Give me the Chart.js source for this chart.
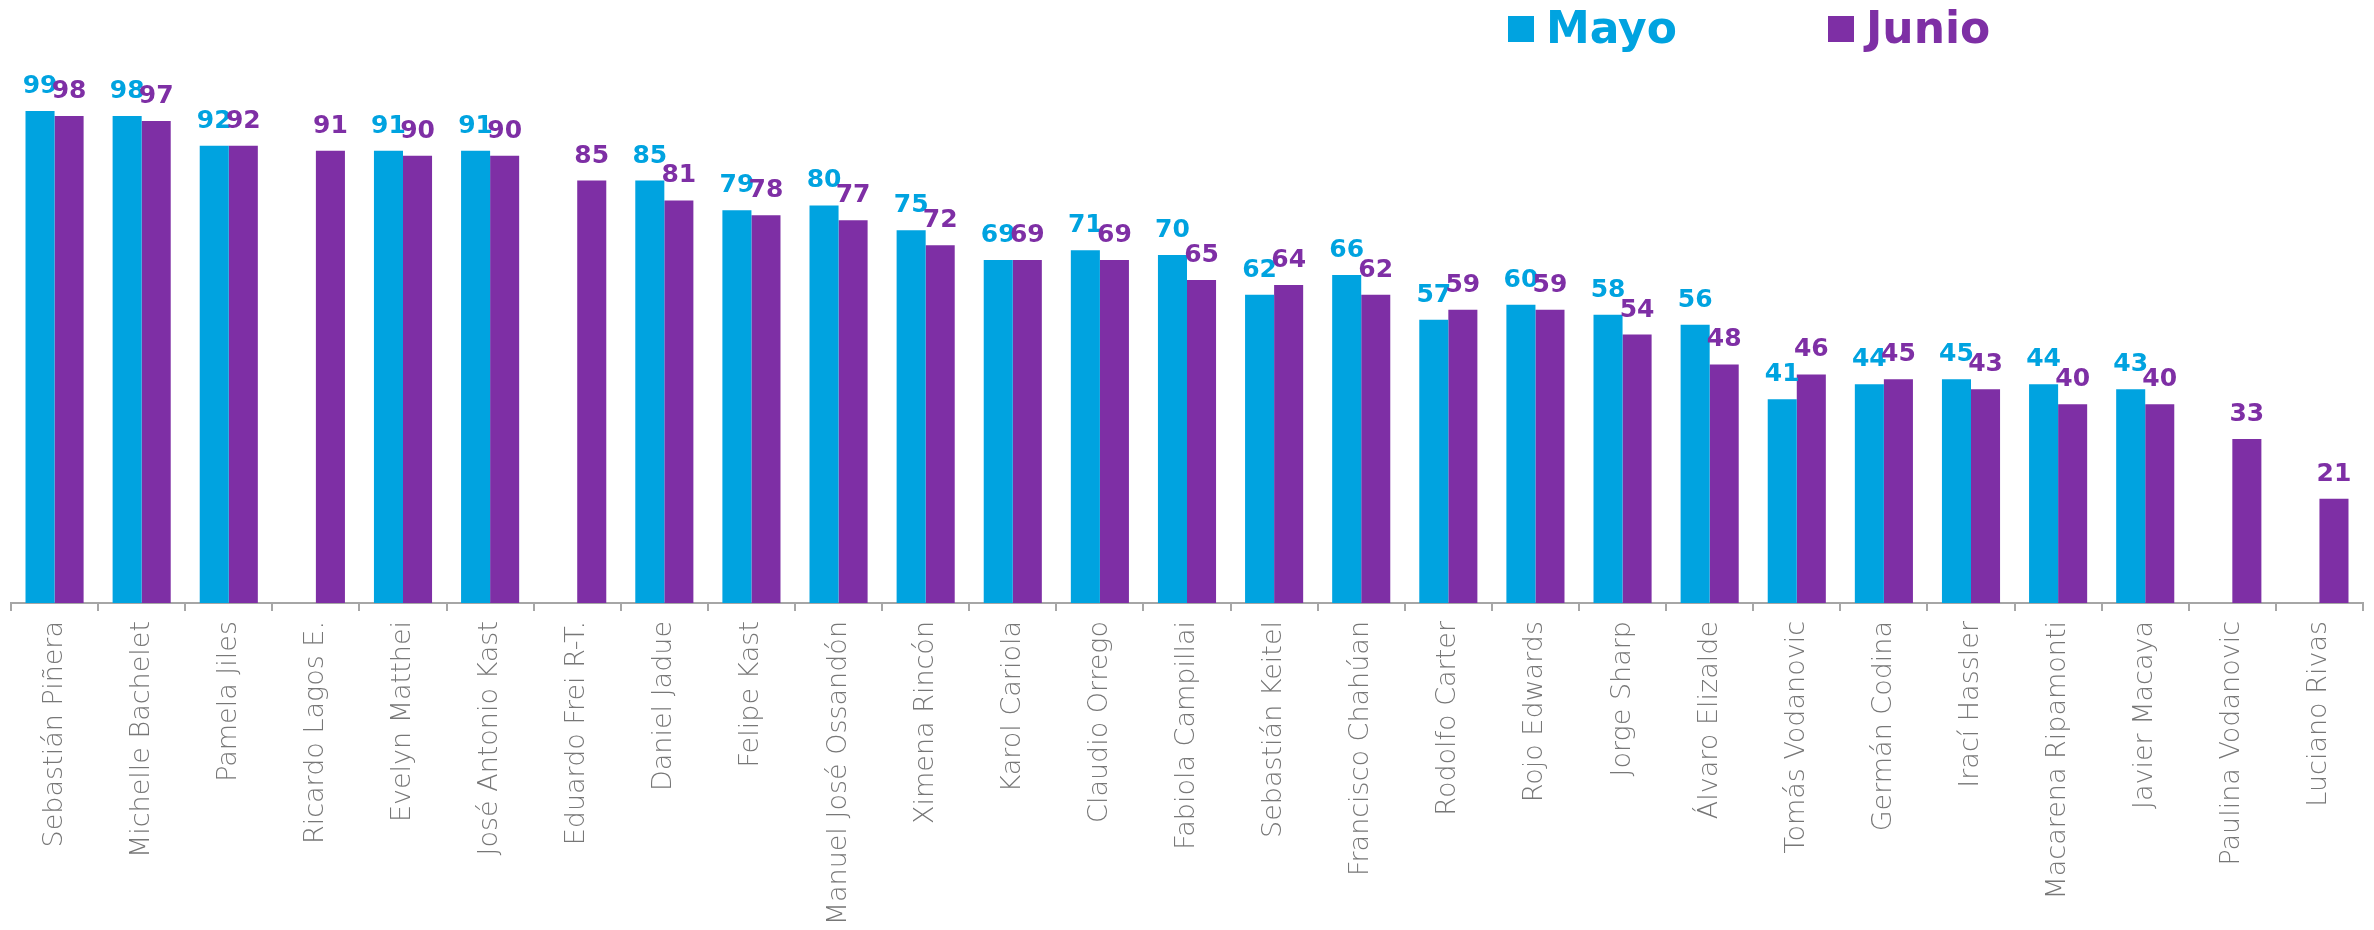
<!DOCTYPE html>
<html>
<head>
<meta charset="utf-8">
<script src="https://cdn.jsdelivr.net/npm/chart.js@4"></script>
<style>
html,body{margin:0;padding:0;background:#fff;}
#wrap{width:2374px;height:930px;position:relative;}
</style>
</head>
<body>
<div id="wrap"><canvas id="c" width="2374" height="930"></canvas></div>
<script>
const categories = ["Sebastián Piñera","Michelle Bachelet","Pamela Jiles","Ricardo Lagos E.","Evelyn Matthei","José Antonio Kast","Eduardo Frei R-T.","Daniel Jadue","Felipe Kast","Manuel José Ossandón","Ximena Rincón","Karol Cariola","Claudio Orrego","Fabiola Campillai","Sebastián Keitel","Francisco Chahúan","Rodolfo Carter","Rojo Edwards","Jorge Sharp","Álvaro Elizalde","Tomás Vodanovic","Germán Codina","Irací Hassler","Macarena Ripamonti","Javier Macaya","Paulina Vodanovic","Luciano Rivas"];
const mayo  = [99,98,92,null,91,91,null,85,79,80,75,69,71,70,62,66,57,60,58,56,41,44,45,44,43,null,null];
const junio = [98,97,92,91,90,90,85,81,78,77,72,69,69,65,64,62,59,59,54,48,46,45,43,40,40,33,21];
const seriesNames = ["Mayo","Junio"];
const colors = ["#00A3E0","#7E2FA5"];

const valueLabels = {
  id:'valueLabels',
  afterDatasetsDraw(chart){
    const ctx = chart.ctx;
    ctx.save();
    ctx.font = "bold 25px 'DejaVu Sans'";
    ctx.textAlign = 'center';
    ctx.textBaseline = 'alphabetic';
    chart.data.datasets.forEach((ds,i)=>{
      const meta = chart.getDatasetMeta(i);
      ctx.fillStyle = colors[i];
      meta.data.forEach((el,j)=>{
        const v = ds.data[j];
        if (v === null || v === undefined) return;
        ctx.fillText(String(v), el.x, el.y - 18);
      });
    });
    ctx.restore();
  }
};

const customLegend = {
  id:'customLegend',
  afterDraw(chart){
    const ctx = chart.ctx;
    ctx.save();
    const items = [{x:1508},{x:1828}];
    ctx.font = "bold 44px 'DejaVu Sans'";
    ctx.textBaseline = 'alphabetic';
    ctx.textAlign = 'left';
    items.forEach((it,i)=>{
      ctx.fillStyle = colors[i];
      ctx.fillRect(it.x, 16, 26, 26);
      ctx.fillText(seriesNames[i], it.x + 38, 43);
    });
    ctx.restore();
  }
};

new Chart(document.getElementById('c'), {
  type:'bar',
  data:{
    labels: categories,
    datasets:[
      {label:seriesNames[0], data:mayo, backgroundColor:colors[0], borderWidth:0},
      {label:seriesNames[1], data:junio, backgroundColor:colors[1], borderWidth:0}
    ]
  },
  options:{
    responsive:false,
    animation:false,
    layout:{padding:{top:106,left:11,right:11,bottom:0}},
    plugins:{legend:{display:false}, tooltip:{enabled:false}},
    datasets:{bar:{categoryPercentage:0.667, barPercentage:1.0}},
    scales:{
      y:{display:false, min:0, max:100},
      x:{
        grid:{display:true, drawOnChartArea:false, drawTicks:true, tickLength:8, offset:true, color:'#A6A6A6', lineWidth:2},
        border:{display:true, color:'#A6A6A6', width:2},
        ticks:{maxRotation:90, minRotation:90, padding:10, color:'#777777', font:{family:"'DejaVu Sans'", size:27, weight:'200'}, autoSkip:false},
        afterFit(scale){ scale.height = 327; }
      }
    }
  },
  plugins:[valueLabels, customLegend]
});
</script>
</body>
</html>
